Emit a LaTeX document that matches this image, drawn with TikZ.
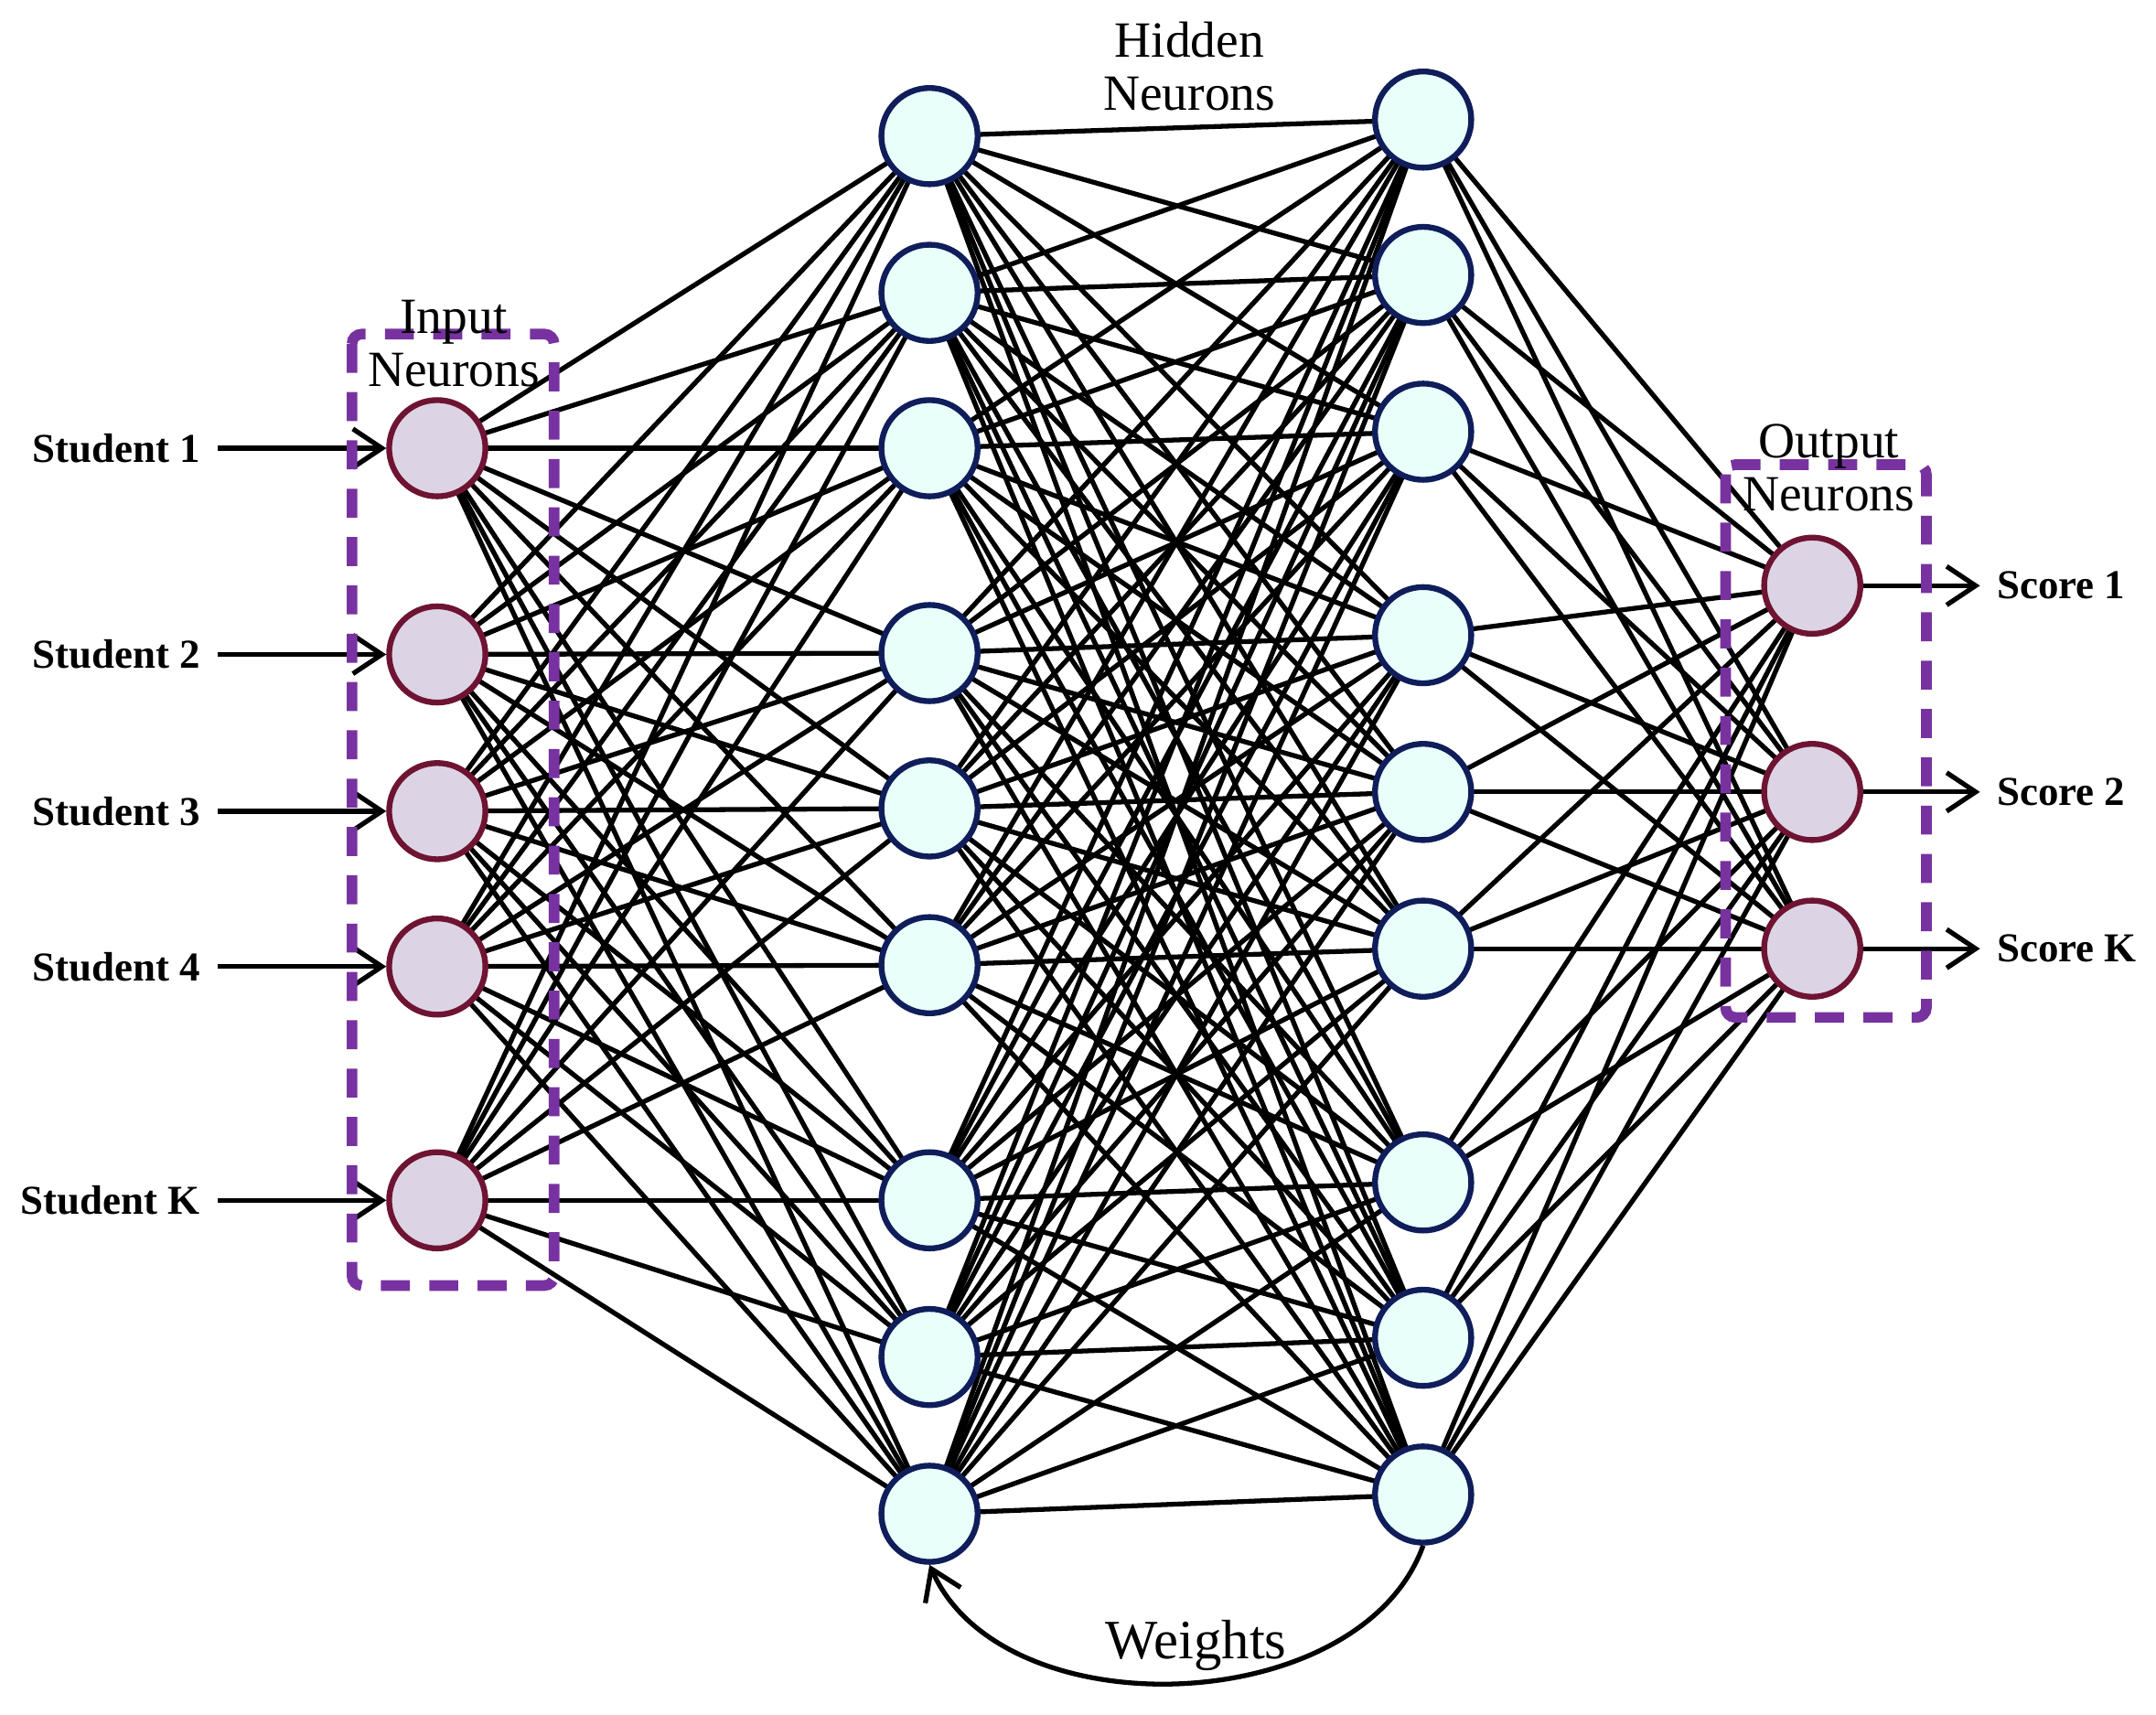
\documentclass[tikz,border=0pt]{standalone}
\usepackage{fontspec}
\setmainfont{Liberation Serif}
\usetikzlibrary{positioning,arrows.meta}
\definecolor{inpfill}{RGB}{220,212,228}
\definecolor{inpdraw}{RGB}{110,20,50}
\definecolor{hidfill}{RGB}{232,255,250}
\definecolor{hiddraw}{RGB}{15,30,90}
\definecolor{boxcol}{RGB}{120,50,160}
\tikzset{
  inp/.style={circle, draw=inpdraw, fill=inpfill, line width=1.2pt, minimum size=0.7cm, inner sep=0pt},
  hid/.style={circle, draw=hiddraw, fill=hidfill, line width=1.2pt, minimum size=0.7cm, inner sep=0pt},
  wire/.style={line width=1pt},
  grp/.style={draw=boxcol, line width=2.2pt, dashed, dash pattern=on 6pt off 4pt, rounded corners=2pt},
  lbl/.style={font=\fontsize{8.5}{9}\selectfont\bfseries},
  ttl/.style={font=\fontsize{10.5}{11}\selectfont, align=center}
}
\begin{document}
\begin{tikzpicture}[x=0.1mm, y=-0.1mm]
    \useasboundingbox (0,0) rectangle (1568,1247);

    % layers
    \foreach \y [count=\i] in {326,476,590,703,873}
        \coordinate (pi\i) at (318,\y);
    \foreach \y [count=\i] in {99,213,326,475,588,702,873,987,1101}
        \coordinate (pa\i) at (676,\y);
    \foreach \y [count=\i] in {87,200,314,462,576,690,860,973,1087}
        \coordinate (pb\i) at (1035,\y);
    \foreach \y [count=\i] in {426,576,690}
        \coordinate (po\i) at (1318,\y);

    % connections
    \foreach \i in {1,...,5}
        \foreach \j in {1,...,9}
            \draw[wire] (pi\i) -- (pa\j);
    \foreach \i in {1,...,9}
        \foreach \j in {1,...,9}
            \draw[wire] (pa\i) -- (pb\j);
    \foreach \i in {1,...,9}
        \foreach \j in {1,...,3}
            \draw[wire] (pb\i) -- (po\j);

    % neurons
    \foreach \i in {1,...,5}
        \node[inp] (in\i) at (pi\i) {};
    \foreach \i in {1,...,9}
        \node[hid] (ha\i) at (pa\i) {};
    \foreach \i in {1,...,9}
        \node[hid] (hb\i) at (pb\i) {};
    \foreach \i in {1,...,3}
        \node[inp] (out\i) at (po\i) {};

    % inputs
    \foreach \t/\y [count=\i] in {Student 1/326,Student 2/476,Student 3/590,Student 4/703,Student K/873} {
        \node[lbl, anchor=east] (st\i) at (158,\y) {\t};
        \draw[wire, -{Straight Barb[length=6pt,width=8pt]}] (st\i.east) -- (in\i.west);
    }
    % outputs
    \foreach \t [count=\i] in {Score 1,Score 2,Score K} {
        \node[lbl, anchor=west] (sc\i) at (1440,0|-po\i) {\t};
        \draw[wire, -{Straight Barb[length=6pt,width=8pt]}] (out\i.east) -- (sc\i.west);
    }

    % groups
    \draw[grp] (256,243) rectangle (403,935);
    \draw[grp] (1255,338) rectangle (1401,740);
    \node[ttl] (tin) at (330,250) {Input\\Neurons};
    \node[ttl] (thid) at (865,48) {Hidden\\Neurons};
    \node[ttl] (tout) at (1330,340) {Output\\Neurons};

    % weights feedback
    \draw[wire, -{Straight Barb[length=6pt,width=8pt]}] (hb9.south) .. controls (990,1250) and (730,1260) .. (ha9.south);
    \node[font=\fontsize{11.5}{12}\selectfont] (wts) at (870,1197) {Weights};
\end{tikzpicture}
\end{document}
